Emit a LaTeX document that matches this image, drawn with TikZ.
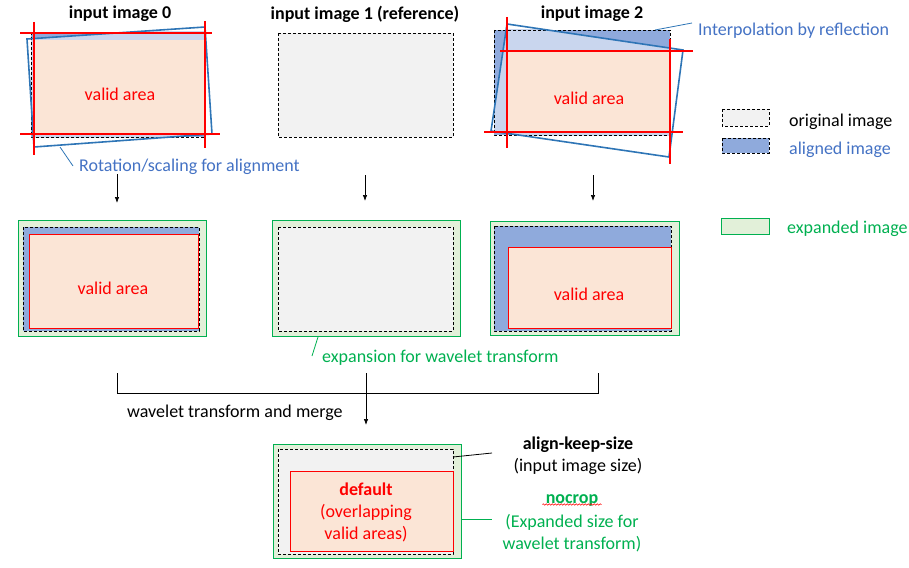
\documentclass[tikz,border=0pt]{standalone}
\usepackage{fontspec}
\setmainfont{Carlito}
\usetikzlibrary{arrows.meta,decorations.pathmorphing}
\definecolor{linkblue}{HTML}{2E75B6}
\definecolor{textblue}{HTML}{4472C4}
\definecolor{alignblue}{HTML}{8FAADC}
\definecolor{lightblue}{HTML}{C9D6EE}
\definecolor{validfill}{HTML}{FBE5D6}
\definecolor{origfill}{HTML}{F2F2F2}
\definecolor{expgreen}{HTML}{00B050}
\definecolor{expfill}{HTML}{E2F0D9}
\tikzstyle{orig image}=[draw=black, fill=origfill, dash pattern=on 3pt off 2pt, line width=0.8pt]
\tikzstyle{aligned image}=[orig image, fill=alignblue]
\tikzstyle{expanded image}=[draw=expgreen, fill=expfill, line width=1pt]
\tikzstyle{valid box}=[draw=red, fill=validfill, line width=0.8pt]
\tikzstyle{rotated}=[draw=linkblue, line width=1.6pt]
\tikzstyle{cut line}=[draw=red, line width=1.8pt]
\tikzstyle{title}=[font=\fontsize{18}{22}\selectfont\bfseries]
\tikzstyle{step arrow}=[-{Latex[length=6pt,width=4.5pt]}, line width=0.7pt]
\tikzstyle{note}=[inner sep=0pt, anchor=west]

\begin{document}
\begin{tikzpicture}[x=1pt, y=-1pt, font=\fontsize{18}{22}\selectfont]
\useasboundingbox (0,0) rectangle (909,567);

% titles
\node[title] (t0) at (120,14) {input image 0};
\node[title] (t1) at (365,14) {input image 1 (reference)};
\node[title] (t2) at (592,14) {input image 2};

% input image 0
\fill[alignblue] (31,32) rectangle (204,137);
\begin{scope}
  \clip (31,32) rectangle (204,137);
  \fill[lightblue] (27,39) -- (205,27) -- (212,134) -- (34,147) -- cycle;
\end{scope}
\draw[orig image, fill=none] (31,32) rectangle (204,137);
\fill[validfill] (34,40) rectangle (204,134);
\draw[rotated] (27,39) -- (205,27) -- (212,134) -- (34,147) -- cycle;
\draw[cut line] (20,33) -- (212,33);
\draw[cut line] (20,134) -- (220,134);
\draw[cut line] (34,22) -- (34,155);
\draw[cut line] (205,21) -- (205,148);
\node[text=red] (v0) at (120,94) {valid area};
\coordinate (r0) at (60,147);
\coordinate (r1) at (73,166);
\draw[linkblue, line width=0.8pt] (r0) -- (r1);
\node[note, text=textblue] (rot) at (79,167) {Rotation/scaling for alignment};

% input image 1
\draw[orig image] (278,33) rectangle (453,137);

% input image 2
\fill[alignblue] (494,30) rectangle (670,135);
\begin{scope}
  \clip (494,30) rectangle (670,135);
  \fill[lightblue] (507,24) -- (683,50) -- (669,157) -- (491,131) -- cycle;
\end{scope}
\draw[orig image, fill=none] (494,30) rectangle (670,135);
\fill[validfill] (507,51) rectangle (670,132);
\draw[rotated] (507,24) -- (683,50) -- (669,157) -- (491,131) -- cycle;
\draw[cut line] (500,51) -- (693,51);
\draw[cut line] (484,132) -- (683,132);
\draw[cut line] (507,17) -- (507,148);
\draw[cut line] (670,39) -- (670,164);
\node[text=red] (v2) at (589,98) {valid area};
\coordinate (i0) at (655,30);
\coordinate (i1) at (692,23);
\draw[linkblue, line width=0.8pt] (i0) -- (i1);
\node[note, text=textblue] (interp) at (698,31) {Interpolation by reflection};

% legend
\draw[orig image] (722,109) rectangle (769,126);
\node[note] (lorig) at (789,122) {original image};
\draw[aligned image] (722,138) rectangle (769,153);
\node[note, text=textblue] (lalign) at (789,150) {aligned image};
\draw[expanded image] (721,218) rectangle (769,234);
\node[note, text=expgreen] (lexp) at (787,229) {expanded image};

% arrows to expanded images
\coordinate (a0) at (117,174);
\coordinate (b0) at (117,203);
\coordinate (a1) at (365,175);
\coordinate (b1) at (365,201);
\coordinate (a2) at (593,175);
\coordinate (b2) at (593,201);
\draw[step arrow] (a0) -- (b0);
\draw[step arrow] (a1) -- (b1);
\draw[step arrow] (a2) -- (b2);

% expanded images
\draw[expanded image] (18,220) rectangle (206,336);
\draw[aligned image] (23,227) rectangle (199,331);
\draw[valid box] (29,234) rectangle (198,328);
\node[text=red] (e0) at (113,288) {valid area};

\draw[expanded image] (272,220) rectangle (460,336);
\draw[orig image] (278,227) rectangle (453,331);

\draw[expanded image] (490,221) rectangle (679,335);
\draw[aligned image] (494,226) rectangle (671,331);
\draw[valid box] (508,247) rectangle (671,328);
\node[text=red] (e2) at (589,294) {valid area};

\coordinate (x0) at (318,337);
\coordinate (x1) at (312,356);
\draw[expgreen, line width=0.8pt] (x0) -- (x1);
\node[note, text=expgreen] (expn) at (322,358) {expansion for wavelet transform};

% merge
\coordinate (m0) at (117,373);
\coordinate (m2) at (598,373);
\coordinate (mt) at (366,373);
\coordinate (me) at (366,425);
\draw[line width=0.8pt] (m0) -- ++(0,20) -| (m2);
\draw[step arrow] (mt) -- (me);
\node[note] (merge) at (127,413) {wavelet transform and merge};

% result
\draw[expanded image] (273,444) rectangle (461,558);
\draw[orig image] (278,449) rectangle (453,554);
\draw[valid box] (290,471) rectangle (453,551);
\node[text=red, align=center] (def) at (366,512) {\textbf{default}\\(overlapping\\valid areas)};

\coordinate (k0) at (453,457);
\coordinate (k1) at (492,453);
\draw[line width=0.8pt] (k0) -- (k1);
\node[align=center] (keep) at (578,456) {\textbf{align-keep-size}\\(input image size)};

\coordinate (n0) at (461,519);
\coordinate (n1) at (492,519);
\draw[expgreen, line width=0.8pt] (n0) -- (n1);
\node[text=expgreen, font=\fontsize{18}{22}\selectfont\bfseries] (nocrop) at (572,500) {nocrop};
\draw[red, line width=0.5pt, decorate, decoration={snake, amplitude=0.8pt, segment length=3pt}]
  ([yshift=-1.5pt]nocrop.base west) -- ([yshift=-1.5pt]nocrop.base east);
\node[text=expgreen, align=center] (nsize) at (572,533) {(Expanded size for\\wavelet transform)};
\end{tikzpicture}
\end{document}
